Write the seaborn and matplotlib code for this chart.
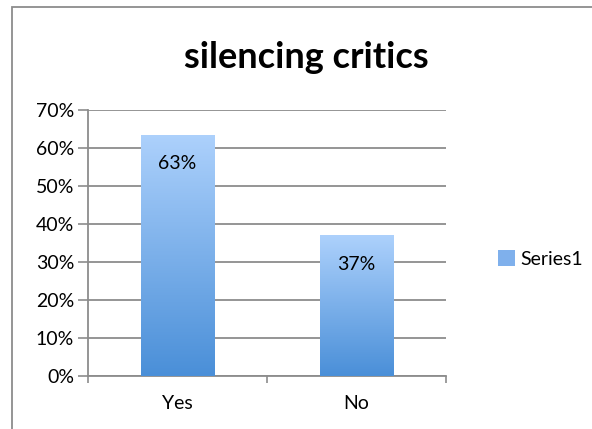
import numpy as np
import matplotlib
matplotlib.use("Agg")
import matplotlib.pyplot as plt
from matplotlib.patches import Rectangle, Patch
from matplotlib.colors import LinearSegmentedColormap
import seaborn as sns

categories = ["Yes", "No"]
values = [0.635, 0.37]
labels = ["63%", "37%"]
series_name = "Series1"
title = "silencing critics"
yticks = [0.0, 0.1, 0.2, 0.3, 0.4, 0.5, 0.6, 0.7]

sns.set_style("white")
plt.rcParams["font.family"] = ["Lato", "DejaVu Sans"]
plt.rcParams["text.color"] = "black"

W, H = 592, 429
fig = plt.figure(figsize=(W / 100, H / 100), dpi=100)
ax = fig.add_axes([88 / W, 1 - 376 / H, (446 - 88) / W, (376 - 110) / H])

sns.barplot(x=categories, y=values, ax=ax, width=0.41, color="#7FB0EC",
            edgecolor="none", zorder=3)

# gradient fill clipped to each bar
cmap = LinearSegmentedColormap.from_list("g", ["#4A8FD8", "#ADD1FC"])
grad = np.linspace(0, 1, 256).reshape(-1, 1)
for p in ax.patches:
    x0, y0 = p.get_x(), p.get_y()
    w, h = p.get_width(), p.get_height()
    im = ax.imshow(grad, cmap=cmap, origin="lower", aspect="auto",
                   extent=[x0, x0 + w, y0, y0 + h], zorder=4)
    im.set_clip_path(p)

ax.set_xlim(-0.5, 1.5)
ax.set_ylim(0, 0.7)
ax.set_yticks(yticks)
ax.set_yticklabels([f"{int(round(t*100))}%" for t in yticks], fontsize=14)
ax.tick_params(axis="y", which="major", length=7, width=1.2, color="#8c8c8c",
               labelcolor="black", direction="out", left=True, pad=3)
ax.set_xticks([0, 1])
ax.set_xticklabels(categories, fontsize=14)
ax.tick_params(axis="x", which="major", length=0, pad=14, labelcolor="black")
ax.set_xticks([-0.5, 0.5, 1.5], minor=True)
ax.tick_params(axis="x", which="minor", length=5, width=1.2, color="#8c8c8c",
               direction="out", bottom=True)
ax.grid(axis="y", color="#8c8c8c", linewidth=1.3, zorder=0)
ax.set_axisbelow(True)
for s in ["top", "right"]:
    ax.spines[s].set_visible(False)
for s in ["left", "bottom"]:
    ax.spines[s].set_color("#8c8c8c")
    ax.spines[s].set_linewidth(1.3)
ax.set_xlabel("")
ax.set_ylabel("")

for i, (v, lab) in enumerate(zip(values, labels)):
    ax.annotate(lab, xy=(i, v), xytext=(0, -21), textcoords="offset points",
                ha="center", va="center", fontsize=14, color="black", zorder=6)

fig.text(306 / W, 1 - 58 / H, title, ha="center", va="center",
         fontsize=26, fontweight="bold", color="black")

handle = Patch(facecolor="#7FB0EC", edgecolor="none")
leg = fig.legend([handle], [series_name], loc="center left",
                 bbox_to_anchor=(480 / W, 1 - 259 / H), frameon=False,
                 fontsize=14, handlelength=0.9, handleheight=0.9,
                 handletextpad=0.25, labelcolor="black")

# outer chart border
fig.patches.append(Rectangle((12 / W, -0.05), 1.2, 1 - 7 / H + 0.05,
                             transform=fig.transFigure, fill=False,
                             edgecolor="#8c8c8c", linewidth=1.3))

fig.savefig("out.png", dpi=100)
